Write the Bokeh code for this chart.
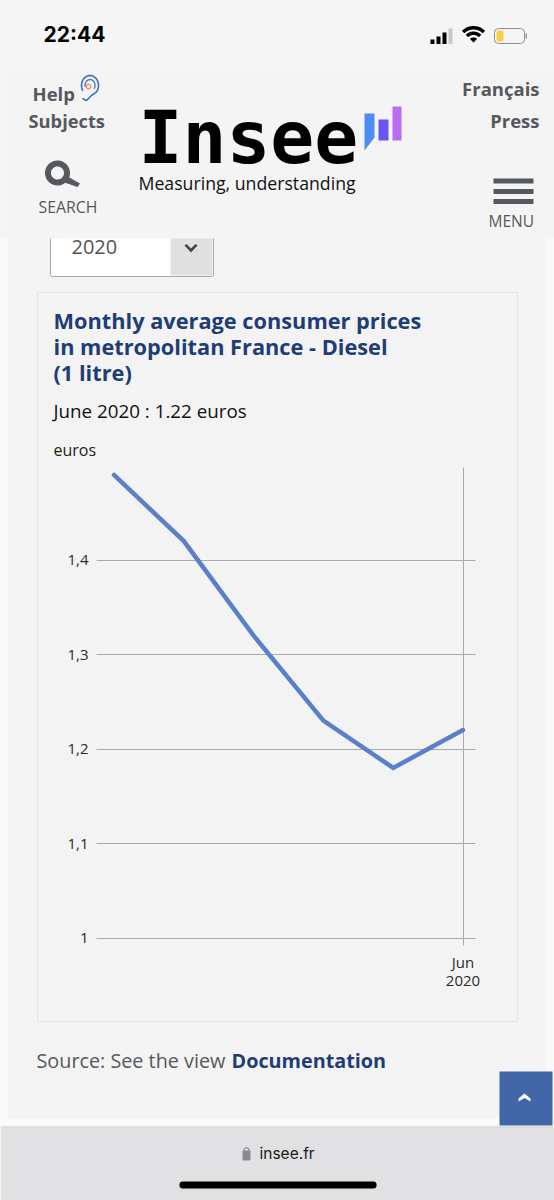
import numpy as np
from bokeh.embed import file_html
from bokeh.resources import INLINE
from bokeh.plotting import figure
from bokeh.models import (Label, BoxAnnotation, PolyAnnotation, Range1d,
                          FixedTicker, LinearAxis, Grid)

# ---- chart data ----
months = ["Jan", "Feb", "Mar", "Apr", "May", "Jun"]
month_index = [1, 2, 3, 4, 5, 6]
diesel_price = [1.49, 1.42, 1.32, 1.23, 1.18, 1.22]
y_ticks = [1.0, 1.1, 1.2, 1.3, 1.4]
y_tick_labels = ["1", "1,1", "1,2", "1,3", "1,4"]
x_ticks = [6]
x_tick_labels = ["Jun"]
x_tick_year = "2020"

W, H = 554, 1200
OFF = 0  # offset of the picture origin


def xval(px):  # page pixel -> month position
    return 1 + (px - 113.5) / 69.8


def yval(px):  # page pixel -> price
    return 1 + (937.5 - px) / 945.0


F_L, F_R, F_T, F_B = 96, 475, 467, 938  # plot area, in page pixels

p = figure(width=W, height=H, output_backend="svg", toolbar_location=None,
           x_range=Range1d(xval(OFF), xval(OFF + W)),
           y_range=Range1d(yval(OFF + H), yval(OFF)),
           x_axis_location=None, y_axis_location=None, min_border=0)
p.outline_line_color = None
p.background_fill_color = "#f3f3f3"
p.border_fill_color = "#f3f3f3"
p.grid.visible = False

GRID = "#a9a9a9"
ygrid = Grid(dimension=1, ticker=FixedTicker(ticks=y_ticks), grid_line_color=GRID,
             cross_bounds=(xval(F_L), xval(F_R)))
xgrid = Grid(dimension=0, ticker=FixedTicker(ticks=x_ticks), grid_line_color=GRID,
             cross_bounds=(yval(945), yval(F_T)))
p.add_layout(ygrid, "center")
p.add_layout(xgrid, "center")

xa = LinearAxis(ticker=FixedTicker(ticks=x_ticks), fixed_location=yval(F_B))
ya = LinearAxis(ticker=FixedTicker(ticks=y_ticks), fixed_location=xval(F_L))
xa.major_label_overrides = {t: l for t, l in zip(x_ticks, x_tick_labels)}
ya.major_label_overrides = {t: l for t, l in zip(y_ticks, y_tick_labels)}
for a in (xa, ya):
    a.axis_line_color = None
    a.major_tick_line_color = None
    a.minor_tick_line_color = None
    a.major_label_text_font = "Open Sans"
    a.major_label_text_font_size = "15px"
    a.major_label_text_color = "#2b2b2b"
xa.major_label_standoff = 7
ya.major_label_standoff = 2
p.add_layout(xa, "below")
p.add_layout(ya, "left")


def box(x0, y0, x1, y1, fill=None, line=None, lw=1, radius=0, level="image"):
    b = BoxAnnotation(left=x0 - OFF, right=x1 - OFF, top=y0 - OFF, bottom=y1 - OFF,
                      left_units="canvas", right_units="canvas",
                      top_units="canvas", bottom_units="canvas",
                      fill_color=fill, fill_alpha=1 if fill else 0,
                      line_color=line, line_alpha=1 if line else 0, line_width=lw,
                      border_radius=radius, level=level, editable=False)
    p.add_layout(b)


def poly(xs, ys, fill=None, line=None, lw=1, level="overlay"):
    a = PolyAnnotation(xs=[float(x) - OFF for x in xs], ys=[float(y) - OFF for y in ys],
                       xs_units="canvas", ys_units="canvas",
                       fill_color=fill, fill_alpha=1 if fill else 0,
                       line_color=line, line_alpha=1 if line else 0, line_width=lw,
                       level=level, editable=False)
    p.add_layout(a)


def text(x, y, s, size, color="#000000", font="Open Sans", style="normal", align="left"):
    # Label draws "alphabetic" text about 0.41 em below the requested y
    p.add_layout(Label(x=x - OFF, y=y - OFF - 0.41 * size, x_units="canvas", y_units="canvas",
                       text=s, text_font=font, text_font_size=f"{size}px", text_color=color,
                       text_font_style=style, text_align=align,
                       text_baseline="alphabetic"))


def ring(cx, cy, r, w, fill):
    t = np.linspace(0, 2 * np.pi, 48)
    xs = np.r_[cx + (r + w / 2) * np.cos(t), cx + (r - w / 2) * np.cos(t[::-1])]
    ys = np.r_[cy + (r + w / 2) * np.sin(t), cy + (r - w / 2) * np.sin(t[::-1])]
    poly(xs, ys, fill=fill)


def sector(cx, cy, r0, r1, a0, a1, fill):
    t = np.radians(np.linspace(a0, a1, 16))
    xs = np.r_[cx + r1 * np.cos(t), cx + r0 * np.cos(t[::-1])]
    ys = np.r_[cy + r1 * np.sin(t), cy + r0 * np.sin(t[::-1])]
    poly(xs, ys, fill=fill)


# ---- page backgrounds ----
box(0, 236, 7, 1118, fill="#f9f9f9")
box(545, 236, 554, 1118, fill="#f9f9f9")
box(0, 1118, 554, 1127, fill="#fafafa")
box(0, 1127, 554, 1200, fill="#e1e1e3")
box(0, 1126, 554, 1127, fill="#c9c9cb")

# select box
box(50, 230, 213, 276, fill="#ffffff", line="#a8a8a8", lw=1, radius=2)
box(170, 230, 212, 275, fill="#e0e0e0")

# header covers the top of the select box
box(0, 0, 554, 66, fill="#f5f5f5")
box(0, 66, 554, 238, fill="#f4f4f4")

# chart panel
box(37, 292, 517, 1021, fill=None, line="#e4e4e4", lw=1)

# ---- data line ----
p.line(month_index, diesel_price, line_color="#5b7fc8", line_width=4.5,
       line_cap="round", line_join="miter")

# year below the month tick label
text(462.5, 987, x_tick_year, 15, "#2b2b2b", align="center")

# ---- status bar ----
text(43, 43, "22:44", 21, "#000000", "Inter", "bold")
for x0, y0 in [(430, 39), (436, 36), (442, 32)]:
    box(x0, y0, x0 + 4, 43.5, fill="#000000", level="overlay")
box(448, 28, 452, 43.5, fill="#c8c8c8", level="overlay")
sector(473, 42, 0, 5, 225, 315, "#000000")
sector(473, 42, 7.5, 11, 225, 315, "#000000")
sector(473, 42, 13, 16.5, 225, 315, "#000000")
box(494, 28, 524, 43, fill=None, line="#8f8f8f", lw=1, radius=4, level="overlay")
box(496, 30, 503, 41, fill="#f6cf46", radius=2, level="overlay")
box(525, 33, 526.5, 38, fill="#9a9a9a", level="overlay")

# ---- site header ----
GREY = "#55585c"
text(32, 101, "Help", 18.5, GREY, style="bold")
text(28, 128, "Subjects", 18.3, GREY, style="bold")
text(539, 96, "Français", 18.5, GREY, style="bold", align="right")
text(539, 128, "Press", 18.5, GREY, style="bold", align="right")
text(38, 213, "SEARCH", 15.8, GREY)
text(488, 227, "MENU", 15.5, GREY)

# ear icon
t_ear = np.radians(np.linspace(150, 400, 30))
ear_x = np.r_[89.5 + 8.5 * np.cos(t_ear), 91, 86, 82]
ear_y = np.r_[85 + 10 * np.sin(t_ear), 95, 100, 98]
poly(np.r_[ear_x, ear_x[::-1] + 0.01], np.r_[ear_y, ear_y[::-1]], line="#3f6fc0", lw=1.6)
t_in = np.radians(np.linspace(170, 390, 20))
in_x = 89.5 + 5 * np.cos(t_in)
in_y = 85 + 6 * np.sin(t_in)
poly(np.r_[in_x, in_x[::-1] + 0.01], np.r_[in_y, in_y[::-1]], line="#3f6fc0", lw=1.3)
ring(88, 86, 2.2, 1.2, "#ef8a4a")

# magnifier icon
ring(57, 172.5, 9.5, 6, "#55585c")
poly([64, 67, 79.5, 77], [182, 176, 183, 186.5], fill="#55585c")

# menu icon
for y0 in (178, 188.5, 198.5):
    box(493, y0, 533, y0 + 5, fill="#55585c", level="overlay")

# logo
text(138, 167, "Insee", 73, "#000000", "DejaVu Sans Mono", "bold")
text(138, 190, "Measuring, understanding", 17.7, "#111111", "Open Sans")
poly([364, 374, 374, 364], [113, 113, 137, 150], fill="#4b8df5")
box(378, 119, 388, 140, fill="#6a55f0", level="overlay")
box(392, 106, 401, 140, fill="#bb6cf5", level="overlay")

# select contents
text(71, 255, "2020", 20, "#555555")
poly([184, 186, 190.5, 195, 197, 190.5], [245, 243.5, 248, 243.5, 245, 252], fill="#444444")

# ---- chart texts ----
NAVY = "#1f3d75"
text(53, 329, "Monthly average consumer prices", 21.75, NAVY, style="bold")
text(53, 355, "in metropolitan France - Diesel", 21.75, NAVY, style="bold")
text(53, 381, "(1 litre)", 21.75, NAVY, style="bold")
text(53, 418, "June 2020 : 1.22 euros", 18.8, "#111111")
text(53, 456, "euros", 16, "#222222")

# ---- footer ----
text(36, 1068, "Source: See the view", 19.8, "#55585c")
text(231, 1068, "Documentation", 19.8, NAVY, style="bold")
box(499, 1071, 552, 1125, fill="#4267a8", level="overlay")
poly([518, 524, 530, 530, 524, 518], [1098, 1093, 1098, 1101, 1097.5, 1101], fill="#ffffff")
box(242, 1150, 250, 1160, fill="#8a8a8c", radius=1, level="overlay")
ring(246, 1150, 2.6, 1.2, "#8a8a8c")
text(259, 1159, "insee.fr", 15.5, "#1a1a1a", "Inter")
box(179, 1181, 376, 1188, fill="#000000", radius=3, level="overlay")

open("out.html", "w").write(file_html(p, INLINE))
